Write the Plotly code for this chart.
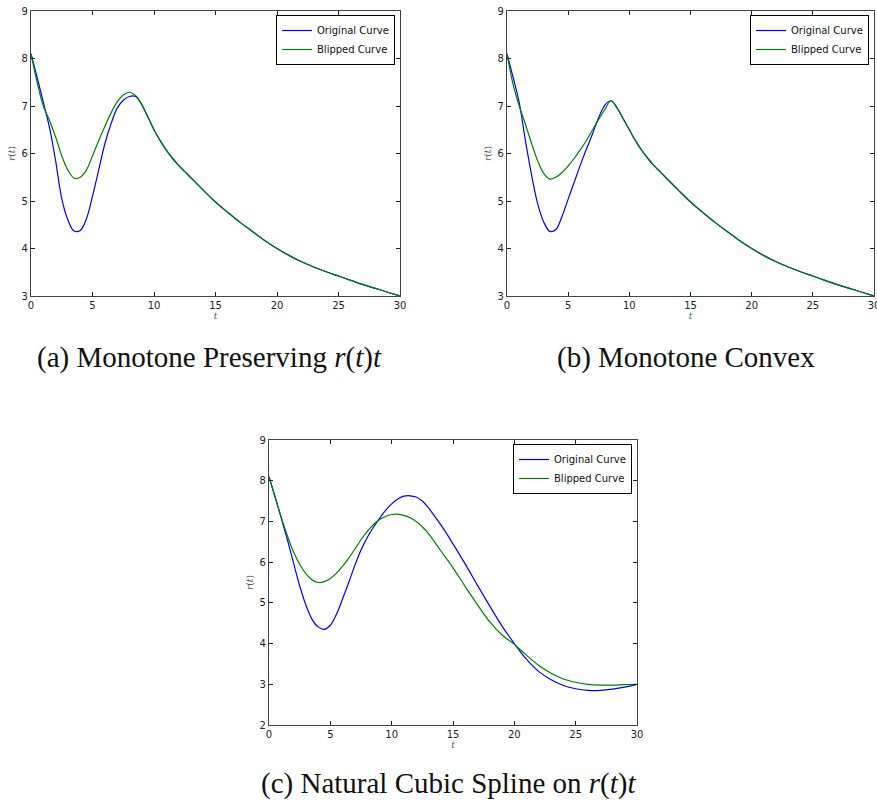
import plotly.graph_objects as go

# ---------------- data ----------------
# (a) Monotone Preserving r(t)t
ta_orig = [0, 0.5, 1, 1.5, 2, 2.5, 3, 3.5, 4, 4.5, 5, 5.5, 6, 6.5, 7, 7.5, 8, 8.5, 9, 9.5, 10,
           10.5, 11, 11.5, 12, 12.5, 13, 14, 15, 16, 17, 18, 19, 20, 21, 22, 23, 24, 25, 26, 27, 28, 29, 30]
ra_orig = [8.1, 7.6, 7.08, 6.55, 5.85, 5.05, 4.6, 4.37, 4.38, 4.62, 5.1, 5.65, 6.2, 6.62, 6.95, 7.12, 7.2, 7.2, 7.03, 6.77, 6.5,
           6.27, 6.07, 5.9, 5.75, 5.62, 5.49, 5.23, 4.98, 4.76, 4.55, 4.36, 4.17, 4.0, 3.85, 3.72, 3.61, 3.51, 3.42, 3.33, 3.24, 3.16, 3.08, 3.0]
ta_blip = [0, 0.5, 1, 1.5, 2, 2.5, 3, 3.5, 4, 4.5, 5, 5.5, 6, 6.5, 7, 7.5, 8, 8.5, 9, 9.5, 10,
           10.5, 11, 11.5, 12, 12.5, 13, 14, 15, 16, 17, 18, 19, 20, 21, 22, 23, 24, 25, 26, 27, 28, 29, 30]
ra_blip = [8.1, 7.5, 7.0, 6.7, 6.35, 5.95, 5.65, 5.48, 5.5, 5.65, 5.95, 6.27, 6.57, 6.85, 7.08, 7.23, 7.29, 7.22, 7.03, 6.77, 6.5,
           6.27, 6.07, 5.9, 5.75, 5.62, 5.49, 5.23, 4.98, 4.76, 4.55, 4.36, 4.17, 4.0, 3.85, 3.72, 3.61, 3.51, 3.42, 3.33, 3.24, 3.16, 3.08, 3.0]

# (b) Monotone Convex
tb_orig = [0, 0.5, 1, 1.5, 2, 2.5, 3, 3.5, 4, 4.5, 5, 5.5, 6, 6.5, 7, 7.5, 8, 8.5, 9, 9.5, 10,
           10.5, 11, 11.5, 12, 12.5, 13, 14, 15, 16, 17, 18, 19, 20, 21, 22, 23, 24, 25, 26, 27, 28, 29, 30]
rb_orig = [8.1, 7.6, 7.07, 6.28, 5.56, 4.95, 4.56, 4.36, 4.4, 4.68, 5.04, 5.4, 5.76, 6.1, 6.42, 6.76, 7.02, 7.11, 6.96, 6.73, 6.5,
           6.27, 6.07, 5.9, 5.75, 5.62, 5.49, 5.23, 4.98, 4.76, 4.55, 4.36, 4.17, 4.0, 3.85, 3.72, 3.61, 3.51, 3.42, 3.33, 3.24, 3.16, 3.08, 3.0]
tb_blip = [0, 0.5, 1, 1.5, 2, 2.5, 3, 3.5, 4, 4.5, 5, 5.5, 6, 6.5, 7, 7.5, 8, 8.5, 9, 9.5, 10,
           10.5, 11, 11.5, 12, 12.5, 13, 14, 15, 16, 17, 18, 19, 20, 21, 22, 23, 24, 25, 26, 27, 28, 29, 30]
rb_blip = [8.1, 7.45, 7.0, 6.62, 6.22, 5.85, 5.58, 5.46, 5.5, 5.6, 5.74, 5.9, 6.08, 6.28, 6.5, 6.72, 6.93, 7.11, 6.96, 6.73, 6.5,
           6.27, 6.07, 5.9, 5.75, 5.62, 5.49, 5.23, 4.98, 4.76, 4.55, 4.36, 4.17, 4.0, 3.85, 3.72, 3.61, 3.51, 3.42, 3.33, 3.24, 3.16, 3.08, 3.0]

# (c) Natural Cubic Spline on r(t)t
tc_orig = [0, 0.5, 1, 1.5, 2, 2.5, 3, 3.5, 4, 4.5, 5, 5.5, 6, 6.5, 7, 7.5, 8, 8.5, 9, 9.5, 10,
           10.5, 11, 11.5, 12, 12.5, 13, 13.5, 14, 15, 16, 17, 18, 19, 20, 21, 22, 23, 24, 25, 26, 27, 28, 29, 30]
rc_orig = [8.1, 7.6, 7.08, 6.55, 5.98, 5.42, 4.95, 4.6, 4.41, 4.35, 4.45, 4.72, 5.1, 5.5, 5.92, 6.3, 6.6, 6.85, 7.07, 7.27, 7.43,
           7.55, 7.62, 7.63, 7.6, 7.5, 7.33, 7.13, 6.92, 6.45, 5.95, 5.43, 4.92, 4.43, 4.0, 3.61, 3.31, 3.11, 2.97, 2.89, 2.85, 2.85, 2.88, 2.93, 3.0]
tc_blip = [0, 0.5, 1, 1.5, 2, 2.5, 3, 3.5, 4, 4.5, 5, 5.5, 6, 6.5, 7, 7.5, 8, 8.5, 9, 9.5, 10,
           10.5, 11, 11.5, 12, 12.5, 13, 13.5, 14, 15, 16, 17, 18, 19, 20, 21, 22, 23, 24, 25, 26, 27, 28, 29, 30]
rc_blip = [8.1, 7.6, 7.1, 6.65, 6.25, 5.95, 5.72, 5.57, 5.5, 5.52, 5.6, 5.73, 5.9, 6.1, 6.32, 6.55, 6.75, 6.92, 7.04, 7.12, 7.17,
           7.18, 7.15, 7.09, 7.0, 6.87, 6.7, 6.5, 6.28, 5.86, 5.4, 4.95, 4.53, 4.21, 3.98, 3.71, 3.46, 3.27, 3.13, 3.05, 3.0, 2.98, 2.98, 2.99, 3.0]

series_names = ["Original Curve", "Blipped Curve"]
x_ticks = [0, 5, 10, 15, 20, 25, 30]
captions = ["(a) Monotone Preserving <i>r</i>(<i>t</i>)<i>t</i>",
            "(b) Monotone Convex",
            "(c) Natural Cubic Spline on <i>r</i>(<i>t</i>)<i>t</i>"]

BLUE = "#0000ff"
GREEN = "#008000"
W, H = 877, 804

# panel pixel boxes (left, right, top, bottom)
boxes = [(31, 400, 11, 296), (507, 874, 11, 296), (269, 637, 440, 725)]
yranges = [[3, 9], [3, 9], [2, 9]]
data = [((ta_orig, ra_orig), (ta_blip, ra_blip)),
        ((tb_orig, rb_orig), (tb_blip, rb_blip)),
        ((tc_orig, rc_orig), (tc_blip, rc_blip))]

fig = go.Figure()
layout = dict(width=W, height=H, margin=dict(l=0, r=0, t=0, b=0, autoexpand=False),
              paper_bgcolor="white", plot_bgcolor="white", showlegend=True,
              annotations=[])

for i, (box, yr, d) in enumerate(zip(boxes, yranges, data)):
    l, r, t, b = box
    sfx = "" if i == 0 else str(i + 1)
    legname = "legend" if i == 0 else f"legend{i + 1}"
    for (tt, rr), name, col in zip(d, series_names, [BLUE, GREEN]):
        fig.add_trace(go.Scatter(x=tt, y=rr, mode="lines", name=name,
                                 line=dict(color=col, width=1.2, shape="spline", smoothing=1.0),
                                 xaxis="x" + sfx, yaxis="y" + sfx, legend=legname))
    axis_common = dict(showgrid=False, zeroline=False, showline=True, linecolor="#444",
                       linewidth=1.2, mirror="ticks", ticks="inside", ticklen=4,
                       tickcolor="#222", tickwidth=1, automargin=False,
                       ticklabeloverflow="allow",
                       tickfont=dict(family="DejaVu Sans", size=10, color="#222"))
    layout["xaxis" + sfx] = dict(axis_common, domain=[l / W, r / W], range=[0, 30],
                                 tickvals=x_ticks, anchor="y" + sfx,
                                 title=dict(text="<i>t</i>", standoff=2,
                                            font=dict(family="DejaVu Serif", size=9, color="#555")))
    layout["yaxis" + sfx] = dict(axis_common, domain=[1 - b / H, 1 - t / H], range=yr,
                                 dtick=1, anchor="x" + sfx,
                                 title=dict(text="<i>r</i>(<i>t</i>)", standoff=4,
                                            font=dict(family="DejaVu Serif", size=9, color="#555")))
    layout[legname] = dict(x=(r - 5) / W, y=1 - (t + 4) / H, xanchor="right", yanchor="top",
                           bgcolor="white", bordercolor="black", borderwidth=1,
                           font=dict(family="DejaVu Sans", size=10, color="#111"),
                           tracegroupgap=0, itemwidth=30)

cap_pos = [(209, 357), (686, 357), (448, 783)]
for txt, (cx, cy) in zip(captions, cap_pos):
    layout["annotations"].append(dict(text=txt, x=cx / W, y=1 - cy / H, xref="paper", yref="paper",
                                      showarrow=False, xanchor="center", yanchor="middle",
                                      font=dict(family="Liberation Serif", size=29, color="#111")))

fig.update_layout(**layout)
fig.write_html("out.html")
